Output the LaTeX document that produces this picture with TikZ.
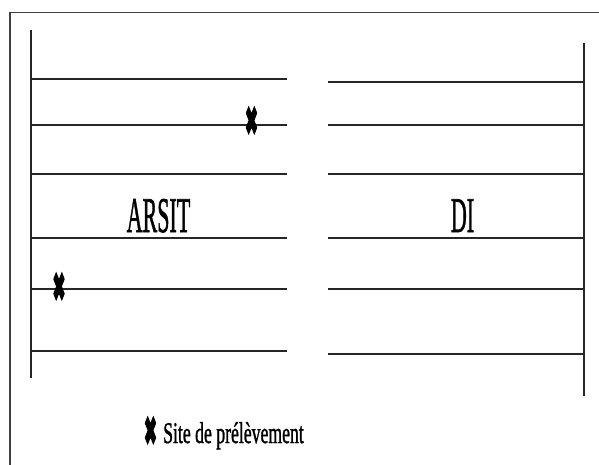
\documentclass[tikz,border=0pt]{standalone}
\usepackage{fontspec}
\setmainfont{Liberation Serif}
\newfontfamily\heavyserif[FakeBold=1.5]{Liberation Serif}
\newfontfamily\dejavub[FakeBold=5]{DejaVu Sans}
\newcommand{\sitemark}{\resizebox*{13pt}{28pt}{\dejavub ✖}}
\begin{document}
\begin{tikzpicture}[x=1pt,y=-1pt,
  frameline/.style={draw=black!75,line width=1.8pt},
  rail/.style={draw=black!85,line width=1.2pt},
  rung/.style={draw=black!85,line width=2pt},
  biglabel/.style={inner sep=0pt,anchor=base,font=\heavyserif\fontsize{50}{50}\selectfont},
  sitenode/.style={inner sep=0pt}]
\useasboundingbox (0,0) rectangle (599,465);
% outer frame (partial)
\draw[frameline] (10,465) -- (10,12.5) -- (599,12.5);
% rails
\draw[rail] (31,30) -- (31,378);
\draw[rail] (584,43) -- (584,396);
% left rungs
\foreach \y in {79,125,174,238,289,351} \draw[rung] (31,\y) -- (287,\y);
% right rungs
\foreach \y in {82,125,174,238,289,354} \draw[rung] (328,\y) -- (584,\y);
% labels
\node[biglabel] (arsit) at (158.5,232) {\scalebox{0.44}[1]{ARSIT}};
\node[biglabel] (di) at (462.5,232) {\scalebox{0.44}[1]{DI}};
% sampling sites
\node[sitenode] (s1) at (251.5,121) {\sitemark};
\node[sitenode] (s2) at (59,287) {\sitemark};
% legend
\node[sitenode] (lm) at (150.5,431) {\sitemark};
\node[inner sep=0pt,anchor=base west,font=\heavyserif\fontsize{30}{30}\selectfont] (lt) at (163,443) {\scalebox{0.59}[1]{Site de prélèvement}};
\end{tikzpicture}
\end{document}
